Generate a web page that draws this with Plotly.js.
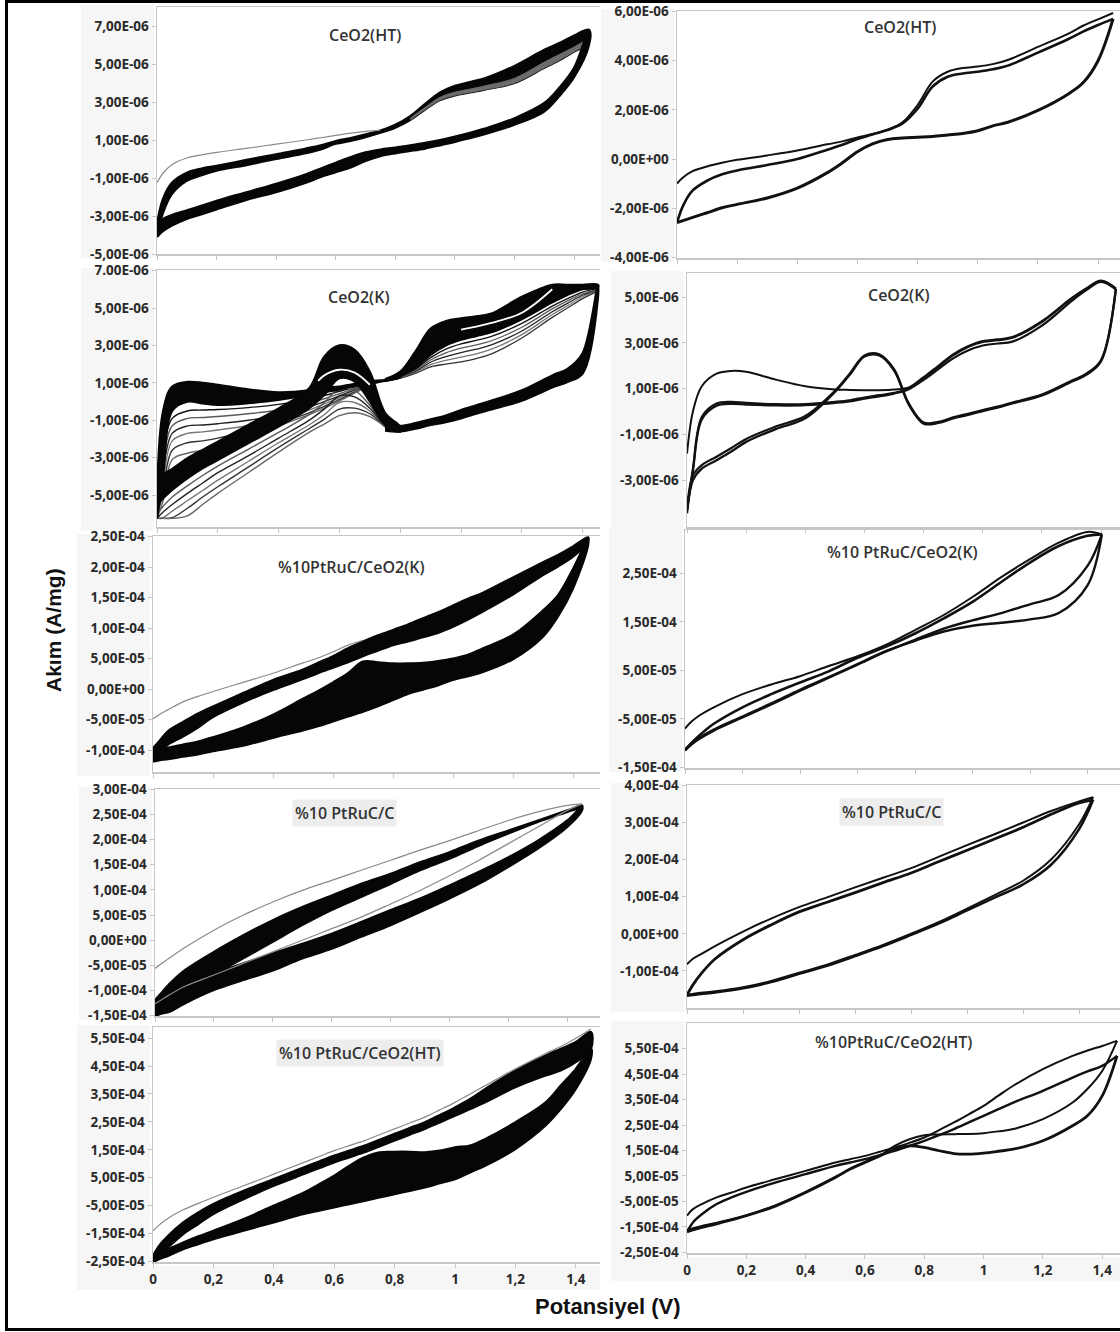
<!DOCTYPE html>
<html>
<head>
<meta charset="utf-8">
<script src="https://cdn.plot.ly/plotly-3.0.1.min.js"></script>
<style>
  html, body { margin: 0; padding: 0; background: #fff; }
  #chart { width: 1120px; height: 1332px; }
</style>
</head>
<body>
<div id="chart"></div>
<script>
// ---- potential grids (V) ----
const E_FINE = [0, 0.02, 0.05, 0.1, 0.15, 0.2, 0.3, 0.4, 0.5, 0.55, 0.6, 0.65, 0.7, 0.75, 0.8, 0.85, 0.9, 0.95, 1.0, 1.05, 1.1, 1.2, 1.3, 1.35, 1.4, 1.45];
const E_COARSE = [0, 0.02, 0.05, 0.1, 0.2, 0.3, 0.4, 0.5, 0.6, 0.7, 0.8, 0.9, 1.0, 1.1, 1.2, 1.3, 1.4, 1.45];
const E_LOW = [0, 0.02, 0.05, 0.1, 0.15, 0.2, 0.3, 0.4, 0.5, 0.55, 0.6, 0.65, 0.7, 0.75, 0.8];
const E_HIGH = [0.75, 0.8, 0.85, 0.9, 0.95, 1.0, 1.05, 1.1, 1.2, 1.3, 1.35, 1.4, 1.45];
const E_UPPER_TAIL = [0.85, 0.9, 0.95, 1.0, 1.05, 1.1, 1.2, 1.3, 1.35, 1.4, 1.45];
const E_PEAK_GAP = [0.53, 0.55, 0.6, 0.65, 0.7];
const E_BAND_GAP = [1.0, 1.05, 1.1, 1.2, 1.3];

// ---- CeO2(HT), repeated cycles (uA/mg) ----
const L1_FIRST = [-1.25, -0.75, -0.3, 0.05, 0.22, 0.35, 0.56, 0.78, 1.0, 1.12, 1.24, 1.36, 1.45, 1.52];
const L1_FWD_HI = [-3.4, -2.1, -1.25, -0.72, -0.5, -0.36, -0.05, 0.25, 0.55, 0.72, 0.95, 1.1, 1.3, 1.5, 1.8, 2.25, 2.9, 3.5, 3.85, 4.05, 4.25, 4.9, 5.75, 6.1, 6.5, 6.8];
const L1_FWD_LO = [-4.1, -2.85, -1.85, -1.15, -0.85, -0.62, -0.32, 0.0, 0.3, 0.5, 0.8, 0.95, 1.15, 1.38, 1.65, 2.05, 2.6, 3.1, 3.35, 3.5, 3.65, 4.0, 4.8, 5.2, 5.65, 6.1];
const L1_FWD_EARLY = [2.15, 2.72, 3.25, 3.52, 3.68, 3.85, 4.25, 5.1, 5.5, 5.9, 6.3];
const L1_FWD_EARLY_LO = [2.05, 2.6, 3.1, 3.35, 3.5, 3.65, 4.0, 4.8, 5.2, 5.65, 6.1];
const L1_REV_HI = [-3.4, -3.15, -2.95, -2.7, -2.45, -2.2, -1.75, -1.3, -0.8, -0.5, -0.2, 0.1, 0.35, 0.5, 0.6, 0.72, 0.85, 1.0, 1.18, 1.38, 1.6, 2.15, 2.95, 3.75, 4.8, 6.8];
const L1_REV_LO = [-4.1, -3.8, -3.5, -3.15, -2.9, -2.65, -2.15, -1.75, -1.25, -0.95, -0.7, -0.45, -0.1, 0.15, 0.3, 0.42, 0.55, 0.72, 0.9, 1.1, 1.3, 1.8, 2.5, 3.3, 4.3, 6.0];

// ---- CeO2(K), repeated cycles (uA/mg) ----
const L2_HUMP_TOP = [-5.0, -0.5, 0.8, 1.05, 1.0, 0.9, 0.65, 0.5, 0.6, 0.75, 0.8, 0.95, 1.1, 1.15, 1.35];
const L2_HUMP_BOT = [-6.24, -4.0, -0.5, 0.0, -0.1, -0.18, -0.09, 0.09, 0.36, 0.5, 0.65, 0.85, 1.0, 1.1, 1.3];
const L2_DIAG_TOP = [-4.4, -3.9, -3.6, -3.03, -2.58, -2.14, -1.25, -0.36, 0.7, 2.4, 3.0, 2.76, 1.6, -0.6, -1.35];
const L2_DIAG_BOT = [-5.5, -5.17, -4.72, -4.1, -3.56, -3.12, -2.23, -1.34, -0.36, 0.36, 1.25, 1.07, 0.0, -1.25, -1.6];
const L2_PEAK_GAP = [1.1, 1.4, 1.7, 1.55, 0.9];
const L2_FWD_LINES = [
  [-6.24, -2.8, -0.9, -0.5, -0.45, -0.42, -0.32, -0.15, 0.12, 0.32, 0.55, 0.78, 0.98, 1.15, 1.35],
  [-6.24, -3.3, -1.3, -0.9, -0.85, -0.8, -0.65, -0.45, -0.1, 0.15, 0.42, 0.7, 0.95, 1.15, 1.35],
  [-6.24, -3.8, -1.7, -1.3, -1.25, -1.18, -1.0, -0.72, -0.3, 0.0, 0.3, 0.62, 0.92, 1.14, 1.35],
  [-6.24, -4.3, -2.1, -1.7, -1.62, -1.52, -1.28, -0.95, -0.45, -0.12, 0.2, 0.56, 0.9, 1.14, 1.35],
  [-6.24, -4.8, -2.6, -2.2, -2.1, -1.95, -1.6, -1.15, -0.6, -0.25, 0.1, 0.5, 0.88, 1.13, 1.35],
  [-6.24, -5.3, -3.1, -2.76, -2.6, -2.35, -1.85, -1.3, -0.7, -0.35, 0.02, 0.45, 0.86, 1.13, 1.35]
];
const L2_REV_LINES = [
  [-6.0, -5.6, -5.1, -4.5, -3.95, -3.45, -2.55, -1.65, -0.7, -0.05, 0.7, 0.6, -0.2, -1.3, -1.6],
  [-6.24, -5.9, -5.5, -4.9, -4.35, -3.8, -2.9, -1.95, -1.0, -0.4, 0.3, 0.25, -0.35, -1.35, -1.6],
  [-6.24, -6.2, -5.85, -5.3, -4.75, -4.2, -3.2, -2.2, -1.25, -0.7, -0.05, -0.05, -0.5, -1.35, -1.55],
  [-6.24, -6.24, -6.2, -5.7, -5.1, -4.55, -3.5, -2.45, -1.45, -0.95, -0.4, -0.35, -0.65, -1.3, -1.55],
  [-6.24, -6.24, -6.24, -6.1, -5.5, -4.9, -3.8, -2.7, -1.65, -1.2, -0.75, -0.6, -0.8, -1.3, -1.5]
];
const L2_UP_TOP = [1.2, 1.6, 2.68, 3.9, 4.3, 4.45, 4.55, 4.7, 5.6, 6.24, 6.24, 6.24, 6.24];
const L2_UP_BOT = [1.1, 1.35, 1.8, 2.5, 3.0, 3.3, 3.5, 3.7, 4.4, 5.3, 5.7, 6.0, 6.1];
const L2_BAND_GAP = [3.85, 4.0, 4.2, 4.75, 6.0];
const L2_UP_LINES = [
  [1.1, 1.33, 1.72, 2.35, 2.8, 3.08, 3.27, 3.48, 4.18, 5.1, 5.5, 5.85, 6.05],
  [1.1, 1.31, 1.66, 2.22, 2.6, 2.85, 3.03, 3.25, 3.97, 4.95, 5.38, 5.75, 6.0],
  [1.1, 1.29, 1.6, 2.1, 2.4, 2.62, 2.8, 3.03, 3.77, 4.8, 5.25, 5.68, 5.97],
  [1.1, 1.27, 1.55, 1.97, 2.2, 2.38, 2.55, 2.8, 3.58, 4.65, 5.12, 5.6, 5.93],
  [1.1, 1.25, 1.5, 1.85, 2.0, 2.12, 2.3, 2.55, 3.4, 4.5, 5.0, 5.5, 5.9]
];
const L2_LOW_TOP = [-1.2, -1.3, -1.15, -0.95, -0.75, -0.45, -0.2, 0.05, 0.6, 1.4, 1.75, 2.6, 6.2];
const L2_LOW_BOT = [-1.55, -1.6, -1.45, -1.25, -1.1, -0.9, -0.65, -0.42, 0.05, 0.75, 1.05, 1.5, 5.5];

// ---- %10PtRuC/CeO2(K), repeated cycles (1e-5 A/mg) ----
const L3_FIRST = [-4.86, -4.2, -3.4, -2.1, -1.2, -0.4, 1.1, 2.6, 4.3, 5.1, 6.1, 7.2, 8.0];
const L3_FWD_HI = [-9.67, -8.6, -6.9, -5.4, -4.0, -2.85, -0.66, 1.5, 3.2, 4.3, 5.4, 6.7, 7.8, 8.8, 9.7, 10.6, 11.6, 12.6, 13.7, 14.8, 15.8, 18.3, 20.8, 22.0, 23.4, 24.9];
const L3_FWD_LO = [-11.6, -10.5, -9.1, -7.8, -6.3, -4.6, -2.2, -0.16, 1.64, 2.6, 3.5, 4.4, 5.4, 6.3, 7.2, 7.8, 8.5, 9.2, 10.2, 11.4, 12.7, 15.5, 18.7, 20.1, 21.7, 24.2];
const L3_REV_HI = [-9.9, -9.8, -9.6, -9.1, -8.6, -7.9, -6.3, -4.2, -1.6, -0.3, 1.1, 2.6, 4.5, 4.4, 4.2, 4.2, 4.3, 4.6, 5.0, 5.6, 6.7, 8.9, 12.9, 15.4, 19.7, 24.5];
const L3_REV_LO = [-11.9, -11.7, -11.5, -11.1, -10.7, -10.2, -9.3, -8.0, -6.8, -6.1, -5.3, -4.5, -3.7, -2.8, -1.8, -0.8, -0.1, 0.6, 1.5, 2.1, 2.8, 4.9, 8.6, 11.9, 16.5, 23.5];

// ---- %10 PtRuC/C, repeated cycles (1e-5 A/mg) ----
const L4_FIRST_FWD = [-5.6, -4.7, -3.5, -1.5, 2.0, 5.0, 7.6, 9.9, 11.9, 13.9, 15.9, 17.9, 19.8, 21.8, 23.8, 25.5, 26.8, 27.1];
const L4_FIRST_REV = [-12.6, -11.9, -10.8, -9.2, -6.9, -4.6, -2.3, 0.0, 2.3, 4.6, 7.2, 9.9, 12.8, 15.9, 19.2, 22.5, 25.8, 27.1];
const L4_FWD_HI = [-11.9, -10.6, -8.6, -6.0, -2.3, 1.0, 4.0, 6.6, 8.9, 11.2, 13.2, 15.5, 17.5, 19.8, 21.8, 23.8, 25.8, 26.8];
const L4_FWD_LO = [-15.0, -13.9, -12.6, -10.6, -6.9, -3.6, -0.3, 3.0, 6.0, 8.6, 11.2, 13.9, 16.2, 18.8, 21.2, 23.5, 25.5, 26.5];
const L4_REV_HI = [-12.6, -11.9, -10.6, -8.9, -6.6, -4.6, -2.6, -0.7, 1.3, 3.6, 6.0, 8.3, 10.9, 13.6, 16.5, 19.8, 23.8, 26.5];
const L4_REV_LO = [-15.2, -14.6, -14.2, -12.6, -9.9, -7.9, -6.0, -3.6, -1.7, 0.7, 3.0, 5.6, 8.3, 11.2, 14.6, 18.2, 22.5, 25.8];

// ---- %10 PtRuC/CeO2(HT), repeated cycles (1e-4 A/mg) ----
const L5_FIRST = [-1.4, -1.2, -0.95, -0.65, -0.42, -0.2, 0.21, 0.63, 1.05, 1.26, 1.47, 1.65, 1.83, 2.04, 2.25, 2.46, 2.67, 2.93, 3.2, 3.5, 3.8, 4.4, 4.95, 5.2, 5.5, 5.83];
const L5_FWD_HI = [-2.3, -1.94, -1.58, -1.1, -0.74, -0.44, 0.03, 0.45, 0.87, 1.08, 1.29, 1.47, 1.65, 1.86, 2.07, 2.28, 2.49, 2.75, 3.02, 3.32, 3.68, 4.34, 4.88, 5.12, 5.36, 5.72];
const L5_FWD_LO = [-2.54, -2.3, -2.0, -1.52, -1.16, -0.8, -0.27, 0.21, 0.63, 0.84, 1.05, 1.23, 1.41, 1.62, 1.83, 2.04, 2.25, 2.48, 2.72, 2.96, 3.2, 3.74, 4.16, 4.34, 4.64, 5.12];
const L5_REV_HI = [-2.36, -2.2, -2.06, -1.82, -1.6, -1.4, -0.98, -0.5, -0.03, 0.27, 0.57, 0.93, 1.23, 1.41, 1.43, 1.43, 1.41, 1.47, 1.59, 1.65, 1.89, 2.49, 3.2, 3.8, 4.4, 5.12];
const L5_REV_LO = [-2.54, -2.42, -2.3, -2.06, -1.88, -1.7, -1.4, -1.1, -0.8, -0.68, -0.56, -0.45, -0.33, -0.21, -0.09, 0.03, 0.15, 0.3, 0.45, 0.69, 0.93, 1.53, 2.37, 2.96, 3.68, 4.76];

// ---- CeO2(HT), three cycles (uA/mg) ----
const R1_FWD1 = [-0.99, -0.75, -0.5, -0.3, -0.15, -0.03, 0.15, 0.35, 0.6, 0.72, 0.88, 1.02, 1.2, 1.5, 2.2, 3.15, 3.55, 3.7, 3.76, 3.86, 4.03, 4.56, 5.09, 5.42, 5.68, 5.94];
const R1_FWD2 = [-2.58, -1.9, -1.3, -0.88, -0.62, -0.46, -0.24, 0.0, 0.38, 0.58, 0.82, 1.0, 1.18, 1.45, 2.05, 2.95, 3.35, 3.48, 3.55, 3.65, 3.8, 4.33, 4.87, 5.18, 5.45, 5.7];
const R1_REV = [-2.58, -2.5, -2.38, -2.18, -1.98, -1.84, -1.58, -1.18, -0.55, -0.15, 0.3, 0.62, 0.8, 0.86, 0.89, 0.92, 0.98, 1.04, 1.15, 1.35, 1.5, 1.98, 2.64, 3.1, 4.0, 5.7];

// ---- CeO2(K), three cycles (uA/mg) ----
const R2_FWD1 = [-1.84, 0.0, 1.1, 1.65, 1.77, 1.73, 1.39, 1.1, 0.96, 0.94, 0.93, 0.93, 0.96, 1.05, 1.5, 2.0, 2.5, 2.85, 3.08, 3.15, 3.25, 3.95, 4.95, 5.38, 5.72, 5.38];
const R2_FWD2 = [-4.3, -2.5, -0.24, 0.35, 0.42, 0.37, 0.32, 0.32, 0.42, 0.49, 0.61, 0.71, 0.81, 1.0, 1.44, 1.95, 2.45, 2.82, 3.04, 3.11, 3.22, 3.91, 4.93, 5.36, 5.7, 5.36];
const R2_FWD3 = [-4.3, -2.6, -0.35, 0.25, 0.33, 0.3, 0.26, 0.27, 0.37, 0.44, 0.56, 0.66, 0.78, 0.97, 1.38, 1.85, 2.32, 2.66, 2.88, 2.97, 3.05, 3.75, 4.82, 5.3, 5.66, 5.33];
const R2_REV1 = [-4.45, -3.0, -2.5, -2.13, -1.75, -1.33, -0.77, -0.3, 0.85, 1.6, 2.4, 2.45, 1.8, 0.3, -0.53, -0.5, -0.3, -0.15, 0.02, 0.17, 0.35, 0.7, 1.3, 1.6, 2.2, 5.36];
const R2_REV2 = [-4.3, -2.8, -2.35, -1.98, -1.6, -1.2, -0.66, -0.2, 0.9, 1.65, 2.45, 2.5, 1.85, 0.35, -0.48, -0.45, -0.26, -0.1, 0.06, 0.21, 0.39, 0.74, 1.34, 1.65, 2.25, 5.33];

// ---- %10 PtRuC/CeO2(K), three cycles (1e-5 A/mg) ----
const R3_FWD1 = [-7.0, -5.7, -4.3, -2.6, 0.1, 2.1, 3.8, 5.9, 7.9, 10.3, 13.3, 16.4, 20.1, 24.2, 27.9, 31.3, 33.5, 33.0];
const R3_FWD2 = [-11.5, -10.1, -8.4, -6.0, -2.6, 0.1, 2.5, 4.8, 7.6, 9.9, 12.6, 15.7, 19.1, 23.2, 27.2, 30.6, 32.7, 33.0];
const R3_REV1 = [-11.5, -10.4, -9.1, -7.4, -4.7, -2.0, 0.8, 3.5, 6.2, 8.9, 11.3, 13.6, 15.3, 16.8, 18.6, 20.5, 26.5, 33.0];
const R3_REV2 = [-11.3, -10.2, -8.9, -7.2, -4.5, -1.8, 1.0, 3.6, 6.3, 9.0, 11.1, 13.0, 14.2, 14.8, 15.5, 16.8, 22.5, 33.0];

// ---- %10 PtRuC/C, three cycles (1e-5 A/mg) ----
const R4_FWD1 = [-8.2, -6.8, -5.5, -3.3, 0.6, 4.1, 7.2, 9.8, 12.5, 15.1, 17.7, 20.8, 23.9, 26.9, 30.0, 33.1, 35.7, 36.8];
const R4_FWD2 = [-16.5, -13.9, -10.8, -6.8, -1.6, 2.4, 5.9, 8.5, 11.1, 13.8, 16.4, 19.5, 22.5, 25.6, 28.7, 32.2, 35.3, 36.1];
const R4_REV1 = [-16.7, -16.5, -16.2, -15.8, -14.7, -13.0, -10.8, -8.6, -6.0, -3.3, -0.3, 2.8, 6.3, 9.8, 13.3, 18.6, 28.2, 36.1];
const R4_REV2 = [-16.4, -16.2, -15.9, -15.5, -14.4, -12.7, -10.5, -8.3, -5.7, -3.0, 0.0, 3.2, 6.8, 10.5, 14.3, 20.0, 29.5, 36.8];

// ---- %10PtRuC/CeO2(HT), three cycles (1e-4 A/mg) ----
const R5_FWD1 = [-1.06, -0.8, -0.6, -0.34, -0.15, 0.05, 0.38, 0.7, 1.03, 1.16, 1.29, 1.45, 1.62, 1.8, 2.01, 2.3, 2.6, 2.92, 3.25, 3.65, 4.04, 4.69, 5.21, 5.42, 5.6, 5.8];
const R5_FWD2 = [-1.69, -1.32, -1.0, -0.6, -0.34, -0.12, 0.25, 0.57, 0.9, 1.03, 1.16, 1.32, 1.49, 1.68, 1.88, 2.1, 2.34, 2.6, 2.86, 3.12, 3.38, 3.84, 4.36, 4.6, 4.82, 5.21];
const R5_REV1 = [-1.62, -1.55, -1.46, -1.33, -1.2, -1.04, -0.64, -0.12, 0.46, 0.78, 1.05, 1.3, 1.68, 1.94, 2.1, 2.13, 2.14, 2.15, 2.18, 2.25, 2.34, 2.73, 3.38, 3.91, 4.62, 5.8];
const R5_REV2 = [-1.69, -1.61, -1.52, -1.38, -1.22, -1.06, -0.67, -0.15, 0.44, 0.77, 1.03, 1.29, 1.55, 1.68, 1.62, 1.49, 1.38, 1.36, 1.4, 1.47, 1.55, 1.88, 2.47, 2.86, 3.64, 5.21];

// ---- tick labels ----
const X_TICKS = [0, 0.2, 0.4, 0.6, 0.8, 1.0, 1.2, 1.4];
const X_TEXT = ['0', '0,2', '0,4', '0,6', '0,8', '1', '1,2', '1,4'];
const TV_L1 = [7, 5, 3, 1, -1, -3, -5];
const TT_L1 = ['7,00E-06', '5,00E-06', '3,00E-06', '1,00E-06', '-1,00E-06', '-3,00E-06', '-5,00E-06'];
const TV_L2 = [7, 5, 3, 1, -1, -3, -5];
const TT_L2 = ['7.00E-06', '5,00E-06', '3,00E-06', '1,00E-06', '-1,00E-06', '-3,00E-06', '-5,00E-06'];
const TV_L3 = [25, 20, 15, 10, 5, 0, -5, -10];
const TT_L3 = ['2,50E-04', '2,00E-04', '1,50E-04', '1,00E-04', '5,00E-05', '0,00E+00', '-5,00E-05', '-1,00E-04'];
const TV_L4 = [30, 25, 20, 15, 10, 5, 0, -5, -10, -15];
const TT_L4 = ['3,00E-04', '2,50E-04', '2,00E-04', '1,50E-04', '1,00E-04', '5,00E-05', '0,00E+00', '-5,00E-05', '-1,00E-04', '-1,50E-04'];
const TV_L5 = [5.5, 4.5, 3.5, 2.5, 1.5, 0.5, -0.5, -1.5, -2.5];
const TT_L5 = ['5,50E-04', '4,50E-04', '3,50E-04', '2,50E-04', '1,50E-04', '5,00E-05', '-5,00E-05', '-1,50E-04', '-2,50E-04'];
const TV_R1 = [6, 4, 2, 0, -2, -4];
const TT_R1 = ['6,00E-06', '4,00E-06', '2,00E-06', '0,00E+00', '-2,00E-06', '-4,00E-06'];
const TV_R2 = [5, 3, 1, -1, -3];
const TT_R2 = ['5,00E-06', '3,00E-06', '1,00E-06', '-1,00E-06', '-3,00E-06'];
const TV_R3 = [25, 15, 5, -5, -15];
const TT_R3 = ['2,50E-04', '1,50E-04', '5,00E-05', '-5,00E-05', '-1,50E-04'];
const TV_R4 = [40, 30, 20, 10, 0, -10];
const TT_R4 = ['4,00E-04', '3,00E-04', '2,00E-04', '1,00E-04', '0,00E+00', '-1,00E-04'];
const TV_R5 = [5.5, 4.5, 3.5, 2.5, 1.5, 0.5, -0.5, -1.5, -2.5];
const TT_R5 = ['5,50E-04', '4,50E-04', '3,50E-04', '2,50E-04', '1,50E-04', '5,00E-05', '-5,00E-05', '-1,50E-04', '-2,50E-04'];

// ---- page geometry (pixels) ----
const W = 1120, H = 1332;
const fx = v => v / W;
const fy = v => 1 - v / H;
const FONT = 'Open Sans, Liberation Sans, sans-serif';

const panels = [
  { x: [157, 600], y: [7, 254],     xmax: 1.487, yr: [-5, 8],        unit: 1e-6, tv: TV_L1, tt: TT_L1, title: 'CeO2(HT)',            tp: [365, 35] },
  { x: [157, 600], y: [270, 527],   xmax: 1.457, yr: [-6.7, 7.03],   unit: 1e-6, tv: TV_L2, tt: TT_L2, title: 'CeO2(K)',             tp: [358, 297] },
  { x: [153, 600], y: [536, 772],   xmax: 1.49,  yr: [-13.6, 25.1],  unit: 1e-5, tv: TV_L3, tt: TT_L3, title: '%10PtRuC/CeO2(K)',    tp: [351, 567] },
  { x: [155, 600], y: [789, 1016],  xmax: 1.511, yr: [-15.05, 30.05], unit: 1e-5, tv: TV_L4, tt: TT_L4, title: '%10 PtRuC/C',        tp: [344, 813], box: true },
  { x: [153, 600], y: [1027, 1262], xmax: 1.48,  yr: [-2.52, 5.9],   unit: 1e-4, tv: TV_L5, tt: TT_L5, title: '%10 PtRuC/CeO2(HT)',  tp: [360, 1053], box: true, xlabels: true },
  { x: [677, 1120], y: [11, 258],   xmax: 1.473, yr: [-4.02, 6.02],  unit: 1e-6, tv: TV_R1, tt: TT_R1, title: 'CeO2(HT)',            tp: [900, 27] },
  { x: [687, 1120], y: [273, 527],  xmax: 1.464, yr: [-5.05, 6.05],  unit: 1e-6, tv: TV_R2, tt: TT_R2, title: 'CeO2(K)',             tp: [898, 295] },
  { x: [685, 1120], y: [530, 768],  xmax: 1.513, yr: [-15.1, 33.9],  unit: 1e-5, tv: TV_R3, tt: TT_R3, title: '%10 PtRuC/CeO2(K)',   tp: [902, 552] },
  { x: [687, 1120], y: [785, 1008], xmax: 1.546, yr: [-20, 40.1],    unit: 1e-5, tv: TV_R4, tt: TT_R4, title: '%10 PtRuC/C',         tp: [892, 812], box: true },
  { x: [687, 1120], y: [1023, 1253], xmax: 1.46, yr: [-2.52, 6.5],   unit: 1e-4, tv: TV_R5, tt: TT_R5, title: '%10PtRuC/CeO2(HT)',   tp: [893, 1042], xlabels: true }
];

function axes(i) { return i === 0 ? ['x', 'y'] : ['x' + (i + 1), 'y' + (i + 1)]; }

function line(i, E, vals, color, width) {
  const [xa, ya] = axes(i);
  const u = panels[i].unit;
  return {
    type: 'scatter', mode: 'lines', xaxis: xa, yaxis: ya, hoverinfo: 'skip',
    x: E.slice(0, vals.length), y: vals.map(v => v * u),
    line: { color: color, width: width, shape: 'spline', smoothing: 1 }
  };
}

function band(i, E, hi, lo, color, edge) {
  const [xa, ya] = axes(i);
  const u = panels[i].unit;
  return {
    type: 'scatter', mode: 'lines', xaxis: xa, yaxis: ya, hoverinfo: 'skip',
    x: E.concat(E.slice().reverse()),
    y: hi.concat(lo.slice().reverse()).map(v => v * u),
    fill: 'toself', fillcolor: color,
    line: { color: color, width: edge === undefined ? 2.2 : edge, shape: 'spline', smoothing: 1 }
  };
}

const INK = '#060606';
const traces = [];
// CeO2(HT) repeated
traces.push(band(0, E_FINE, L1_FWD_HI, L1_FWD_LO, INK));
traces.push(band(0, E_UPPER_TAIL, L1_FWD_EARLY, L1_FWD_EARLY_LO, '#6c6c6c', 0.8));
traces.push(band(0, E_FINE, L1_REV_HI, L1_REV_LO, INK));
traces.push(line(0, E_FINE, L1_FIRST, '#8a8a8a', 1.2));

// CeO2(K) repeated
const grays = ['#111', '#5a5a5a', '#222', '#777', '#333', '#666'];
L2_FWD_LINES.forEach((v, k) => traces.push(line(1, E_LOW, v, grays[k % grays.length], 1.4)));
L2_REV_LINES.forEach((v, k) => traces.push(line(1, E_LOW, v, grays[(k + 1) % grays.length], 1.4)));
L2_UP_LINES.forEach((v, k) => traces.push(line(1, E_HIGH, v, grays[k % grays.length], 1.3)));
traces.push(band(1, E_LOW, L2_HUMP_TOP, L2_HUMP_BOT, INK));
traces.push(band(1, E_LOW, L2_DIAG_TOP, L2_DIAG_BOT, INK));
traces.push(band(1, E_HIGH, L2_UP_TOP, L2_UP_BOT, INK));
traces.push(band(1, E_HIGH, L2_LOW_TOP, L2_LOW_BOT, INK));
traces.push(line(1, E_PEAK_GAP, L2_PEAK_GAP, '#ffffff', 1.8));
traces.push(line(1, E_BAND_GAP, L2_BAND_GAP, '#ffffff', 1.8));

// %10PtRuC/CeO2(K) repeated
traces.push(band(2, E_FINE, L3_FWD_HI, L3_FWD_LO, INK));
traces.push(band(2, E_FINE, L3_REV_HI, L3_REV_LO, INK));
traces.push(line(2, E_FINE, L3_FIRST, '#8a8a8a', 1.2));

// %10 PtRuC/C repeated
traces.push(band(3, E_COARSE, L4_FWD_HI, L4_FWD_LO, INK));
traces.push(band(3, E_COARSE, L4_REV_HI, L4_REV_LO, INK));
traces.push(line(3, E_COARSE, L4_FIRST_FWD, '#8a8a8a', 1.2));
traces.push(line(3, E_COARSE, L4_FIRST_REV, '#8a8a8a', 1.2));

// %10 PtRuC/CeO2(HT) repeated
traces.push(band(4, E_FINE, L5_FWD_HI, L5_FWD_LO, INK));
traces.push(band(4, E_FINE, L5_REV_HI, L5_REV_LO, INK));
traces.push(line(4, E_FINE, L5_FIRST, '#8a8a8a', 1.2));

// right column: three cycles each
traces.push(line(5, E_FINE, R1_FWD1, '#111', 2));
traces.push(line(5, E_FINE, R1_FWD2, '#111', 2.6));
traces.push(line(5, E_FINE, R1_REV, '#111', 3));

traces.push(line(6, E_FINE, R2_FWD1, '#111', 2));
traces.push(line(6, E_FINE, R2_FWD2, '#111', 2.2));
traces.push(line(6, E_FINE, R2_FWD3, '#111', 2.2));
traces.push(line(6, E_FINE, R2_REV1, '#111', 2.4));
traces.push(line(6, E_FINE, R2_REV2, '#111', 2.2));

traces.push(line(7, E_COARSE, R3_FWD1, '#111', 2));
traces.push(line(7, E_COARSE, R3_FWD2, '#111', 2.6));
traces.push(line(7, E_COARSE, R3_REV1, '#111', 2.4));
traces.push(line(7, E_COARSE, R3_REV2, '#111', 2.4));

traces.push(line(8, E_COARSE, R4_FWD1, '#111', 2));
traces.push(line(8, E_COARSE, R4_FWD2, '#111', 2.8));
traces.push(line(8, E_COARSE, R4_REV1, '#111', 2.6));
traces.push(line(8, E_COARSE, R4_REV2, '#111', 2));

traces.push(line(9, E_FINE, R5_FWD1, '#111', 2));
traces.push(line(9, E_FINE, R5_FWD2, '#111', 2.4));
traces.push(line(9, E_FINE, R5_REV1, '#111', 2));
traces.push(line(9, E_FINE, R5_REV2, '#111', 2.8));

// ---- layout ----
const layout = {
  width: W, height: H,
  margin: { l: 0, r: 0, t: 0, b: 0 },
  paper_bgcolor: '#ffffff', plot_bgcolor: '#ffffff',
  showlegend: false,
  annotations: [], shapes: []
};

const tickFont = { family: FONT, size: 13.5, color: '#2a2a2a', weight: 700 };

panels.forEach((p, i) => {
  const s = i === 0 ? '' : String(i + 1);
  layout['xaxis' + s] = {
    domain: [fx(p.x[0]), fx(p.x[1])], range: [0, p.xmax], anchor: 'y' + s,
    showline: true, mirror: true, linecolor: '#c6c6c6', linewidth: 1.5,
    ticks: 'outside', ticklen: 4, tickcolor: '#c6c6c6',
    tickvals: X_TICKS, ticktext: X_TEXT, showticklabels: !!p.xlabels,
    tickfont: tickFont, showgrid: false, zeroline: false, fixedrange: true
  };
  layout['yaxis' + s] = {
    domain: [fy(p.y[1]), fy(p.y[0])], range: [p.yr[0] * p.unit, p.yr[1] * p.unit], anchor: 'x' + s,
    showline: true, linecolor: '#c6c6c6', linewidth: 1.5,
    ticks: 'outside', ticklen: 4, tickcolor: '#c6c6c6', ticklabeloverflow: 'allow',
    tickvals: p.tv.map(v => v * p.unit), ticktext: p.tt,
    tickfont: tickFont, showgrid: false, zeroline: false, fixedrange: true
  };
  // faint shading behind the tick label column
  layout.shapes.push({
    type: 'rect', xref: 'paper', yref: 'paper', layer: 'below',
    x0: fx(p.x[0] - 76), x1: fx(p.x[0] - 3), y0: fy(p.y[1] + 4), y1: fy(p.y[0] - 2),
    fillcolor: '#f6f6f6', line: { width: 0 }
  });
  if (p.xlabels) {
    layout.shapes.push({
      type: 'rect', xref: 'paper', yref: 'paper', layer: 'below',
      x0: fx(p.x[0] - 76), x1: fx(p.x[1]), y0: fy(p.y[1] + 28), y1: fy(p.y[1] + 4),
      fillcolor: '#f6f6f6', line: { width: 0 }
    });
  }
  const ann = {
    xref: 'paper', yref: 'paper', x: fx(p.tp[0]), y: fy(p.tp[1]),
    xanchor: 'center', yanchor: 'middle', showarrow: false, text: p.title,
    font: { family: FONT, size: 16, color: '#333', weight: 600 }
  };
  if (p.box) { ann.bgcolor = '#ededed'; ann.borderpad = 2; }
  layout.annotations.push(ann);
});

// shared axis titles
layout.annotations.push({
  xref: 'paper', yref: 'paper', x: fx(53), y: fy(630), textangle: -90,
  xanchor: 'center', yanchor: 'middle', showarrow: false, text: 'Akım (A/mg)',
  font: { family: 'Liberation Sans, Arial, sans-serif', size: 21, color: '#111', weight: 700 }
});
layout.annotations.push({
  xref: 'paper', yref: 'paper', x: fx(607), y: fy(1306),
  xanchor: 'center', yanchor: 'middle', showarrow: false, text: 'Potansiyel (V)',
  font: { family: 'Liberation Sans, Arial, sans-serif', size: 22, color: '#111', weight: 700 }
});

// outer frame
layout.shapes.push({
  type: 'rect', xref: 'paper', yref: 'paper', layer: 'above',
  x0: fx(6.5), x1: fx(1140), y0: fy(1329.5), y1: fy(1.5),
  line: { color: '#000', width: 3 }, fillcolor: 'rgba(0,0,0,0)'
});

Plotly.newPlot('chart', traces, layout, { staticPlot: true, displayModeBar: false });
</script>
</body>
</html>
